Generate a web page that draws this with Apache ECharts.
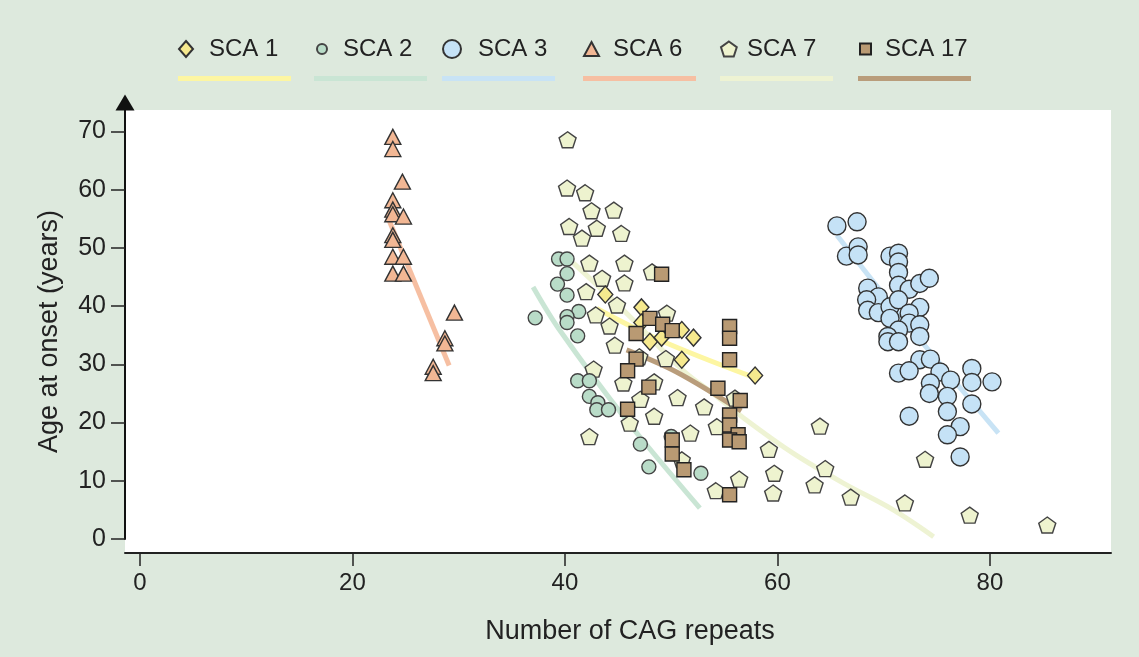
<!DOCTYPE html>
<html><head><meta charset="utf-8">
<script src="https://cdn.jsdelivr.net/npm/echarts@6/dist/echarts.min.js"></script>
<style>html,body{margin:0;padding:0;background:#dde9dd}#c{width:1139px;height:657px}</style>
</head><body><div id="c"></div>
<script>
// ---------- DATA ----------
const seriesNames = ['SCA 1', 'SCA 2', 'SCA 3', 'SCA 6', 'SCA 7', 'SCA 17'];
const xTickValues = [0, 20, 40, 60, 80];
const yTickValues = [0, 10, 20, 30, 40, 50, 60, 70];
const xAxisTitle = 'Number of CAG repeats';
const yAxisTitle = 'Age at onset (years)';

const sca1Points = [[43.8,42.0],[47.2,39.8],[47.2,37.2],[48.0,33.9],[49.1,34.6],[51.0,35.9],[52.1,34.6],[51.0,30.8],[57.9,28.1]];
const sca2Points = [[37.2,38.0],[39.4,48.1],[40.2,48.1],[40.2,45.6],[39.3,43.8],[40.2,41.9],[41.3,39.1],[40.2,38.2],[40.2,37.2],[41.2,34.9],[41.2,27.2],[42.3,27.2],[42.3,24.5],[43.1,23.4],[43.0,22.2],[44.1,22.2],[47.1,16.3],[47.9,12.4],[50.0,17.6],[52.8,11.3]];
const sca3Points = [[65.6,53.8],[67.5,54.5],[66.5,48.6],[67.6,50.2],[67.6,48.8],[70.6,48.6],[71.4,49.1],[71.4,47.6],[71.4,45.8],[71.4,43.6],[72.4,42.9],[73.4,43.9],[74.3,44.8],[68.5,43.1],[69.5,41.6],[68.4,41.1],[68.5,39.3],[69.5,38.9],[70.6,39.9],[71.4,41.1],[70.6,37.9],[73.4,39.8],[72.4,38.8],[72.4,37.1],[73.4,36.8],[71.4,35.9],[70.4,34.8],[70.4,33.9],[71.4,33.9],[73.4,34.8],[73.4,30.8],[74.4,30.9],[75.3,28.7],[76.3,27.3],[74.4,26.8],[74.3,25.0],[71.4,28.5],[72.4,28.9],[76.0,24.5],[78.3,29.3],[78.3,26.9],[80.2,27.0],[78.3,23.2],[76.0,21.9],[72.4,21.1],[77.2,19.3],[76.0,17.9],[77.2,14.1]];
const sca6Points = [[23.8,69.1],[23.8,67.0],[24.7,61.4],[23.8,58.2],[23.8,56.6],[23.8,55.8],[24.8,55.4],[23.8,52.2],[23.8,51.4],[23.8,48.5],[24.8,48.5],[23.8,45.6],[24.8,45.6],[29.6,38.9],[28.7,34.5],[28.7,33.6],[27.6,29.6],[27.6,28.5]];
const sca7Points = [[40.25,68.6],[40.2,60.3],[41.9,59.5],[42.5,56.4],[44.6,56.5],[40.4,53.7],[43.0,53.4],[45.3,52.5],[41.6,51.7],[42.3,47.4],[45.6,47.4],[48.2,45.9],[43.5,44.8],[45.6,44.0],[42.0,42.5],[44.9,40.2],[42.9,38.5],[49.6,38.8],[44.2,36.6],[44.7,33.3],[49.5,31.0],[47.0,31.3],[42.7,29.2],[45.5,26.8],[48.4,27.0],[47.1,24.0],[50.6,24.3],[48.4,21.1],[46.1,19.9],[42.3,17.6],[51.0,13.6],[51.8,18.2],[53.1,22.7],[56.0,24.2],[54.3,19.3],[59.2,15.4],[64.0,19.4],[64.5,12.1],[56.4,10.3],[59.7,11.3],[54.2,8.3],[59.6,7.9],[63.5,9.3],[66.9,7.2],[73.9,13.7],[72.0,6.2],[78.1,4.1],[85.4,2.4]];
const sca17Points = [[49.1,45.5],[48.0,37.9],[49.2,36.9],[50.1,35.8],[46.7,35.3],[46.7,30.9],[45.9,28.9],[47.9,26.1],[45.9,22.3],[50.1,17.0],[50.1,14.6],[51.2,11.9],[55.5,36.5],[55.5,34.5],[55.5,30.8],[54.4,25.9],[56.5,23.8],[55.5,21.3],[55.5,19.6],[56.3,17.9],[55.5,17.0],[56.4,16.7],[55.5,7.6]];

const sca1Trend = [[43.0,39.6],[48.9,34.2],[57.6,27.9]];
const sca2Trend = [[37.0,43.3],[39.5,35.9],[45.8,20.4],[52.7,5.3]];
const sca3Trend = [[65.6,52.2],[72.5,36.3],[80.8,18.2]];
const sca6Trend = [[23.3,55.4],[29.1,29.8]];
const sca7Trend = [[40.8,47.4],[45.8,38.8],[51.1,29.0],[54.3,24.5],[57.1,20.4],[61.5,14.7],[66.2,9.6],[70.9,5.0],[74.7,0.4]];
const sca17Trend = [[45.8,32.5],[50.5,28.7],[56.6,22.0]];

const pointSets = [sca1Points, sca2Points, sca3Points, sca6Points, sca7Points, sca17Points];
const trendSets = [sca1Trend, sca2Trend, sca3Trend, sca6Trend, sca7Trend, sca17Trend];

// ---------- STYLE ----------
const FONT = "'Liberation Sans', Arial, sans-serif";
const TEXT = '#222';
const PENTAGON = 'path://M0,-1L0.951,-0.309L0.588,0.809L-0.588,0.809L-0.951,-0.309Z';
const styles = [
  {fill:'#f6e98e', line:'#fdf6a2', symbol:'diamond', size:[15,17], border:'#333'},
  {fill:'#b9dcc8', line:'#c9e5d4', symbol:'circle',  size:14, border:'#444'},
  {fill:'#c5e2f6', line:'#c8e3f5', symbol:'circle',  size:18, border:'#333'},
  {fill:'#f2b794', line:'#f6bfa2', symbol:'triangle',size:[16,15], border:'#333'},
  {fill:'#eef3cf', line:'#eef3d3', symbol:PENTAGON,  size:[17,16], border:'#444'},
  {fill:'#b99a73', line:'#b99d7b', symbol:'rect',    size:14, border:'#222'}
];
// legend layout
const legIcon = [
  {left:178, w:14, h:16, pad:11},
  {left:316, w:10, h:10, pad:11},
  {left:442, w:18, h:18, pad:12},
  {left:583, w:15, h:14, pad:9},
  {left:720, w:16, h:15, pad:5},
  {left:859, w:11, h:11, pad:9}
];
const legLineLeft = [178, 314, 442, 583, 720, 858];
const drawOrder = [4, 1, 2, 3, 0, 5];

const X_MIN = -1.41, X_MAX = 91.4;
const series = [];
trendSets.forEach((d, i) => {
  series.push({
    name: seriesNames[i] + ' trend', type: 'line', data: d, smooth: 0.35,
    symbol: 'none', showSymbol: false, z: 1, clip: false,
    xAxisIndex: 0, yAxisIndex: 0,
    color: styles[i].line,
    itemStyle: {color: styles[i].line},
    lineStyle: {color: styles[i].line, width: 5}
  });
});
drawOrder.forEach(i => {
  const s = styles[i];
  series.push({
    name: seriesNames[i], type: 'scatter', data: pointSets[i],
    symbol: s.symbol, symbolSize: s.size, z: 3, clip: false,
    xAxisIndex: 0, yAxisIndex: 0,
    color: s.fill,
    itemStyle: {color: s.fill, borderColor: s.border, borderWidth: 1.4, opacity: 1}
  });
});

const legends = [];
seriesNames.forEach((n, i) => {
  const L = legIcon[i];
  legends.push({
    data: [n], left: L.left, top: 37, itemWidth: L.w, itemHeight: L.h, padding: 0,
    textStyle: {fontFamily: FONT, fontSize: 24, color: TEXT, padding: [0, 0, 0, L.pad]}
  });
  legends.push({
    data: [{name: n + ' trend', icon: 'rect'}], left: legLineLeft[i], top: 76,
    itemWidth: 113, itemHeight: 5, padding: 0, formatter: () => '',
    textStyle: {fontSize: 1}
  });
});

const chart = echarts.init(document.getElementById('c'), null, {renderer: 'canvas'});
chart.setOption({
  backgroundColor: '#dde9dd',
  animation: false,
  legend: legends,
  grid: [
    {left: 125, right: 28, top: 110, bottom: 104, show: true, backgroundColor: '#ffffff', borderWidth: 0},
    {left: 125, right: 28, top: 102.5, bottom: 118, show: false}
  ],
  xAxis: [
    {gridIndex: 0, type: 'value', min: X_MIN, max: X_MAX,
     axisLine: {show: true, onZero: false, lineStyle: {color: '#222', width: 2}},
     axisTick: {show: true, customValues: xTickValues, length: 13, lineStyle: {color: '#222', width: 1.5}},
     axisLabel: {show: true, customValues: xTickValues, margin: 18, fontSize: 24, color: TEXT, fontFamily: FONT},
     splitLine: {show: false},
     name: xAxisTitle, nameLocation: 'middle', nameGap: 65,
     nameTextStyle: {fontFamily: FONT, fontSize: 27, color: TEXT, padding: [0, 0, 0, 24]}},
    {gridIndex: 1, type: 'value', min: X_MIN, max: X_MAX, show: false}
  ],
  yAxis: [
    {gridIndex: 0, type: 'value', min: -2.405, max: 73.71,
     axisLine: {show: false}, axisTick: {show: false}, axisLabel: {show: false}, splitLine: {show: false},
     name: yAxisTitle, nameLocation: 'middle', nameGap: 62,
     nameTextStyle: {fontFamily: FONT, fontSize: 27, color: TEXT}},
    {gridIndex: 1, type: 'value', min: 0, max: 75,
     axisLine: {show: true, onZero: false, symbol: ['none', 'triangle'], symbolSize: [19, 16], lineStyle: {color: '#111', width: 2}},
     axisTick: {show: true, customValues: yTickValues, length: 14, lineStyle: {color: '#222', width: 1.5}},
     axisLabel: {show: true, customValues: yTickValues, margin: 19, fontSize: 25, color: TEXT, fontFamily: FONT},
     splitLine: {show: false}}
  ],
  series: series
});
</script>
</body></html>
